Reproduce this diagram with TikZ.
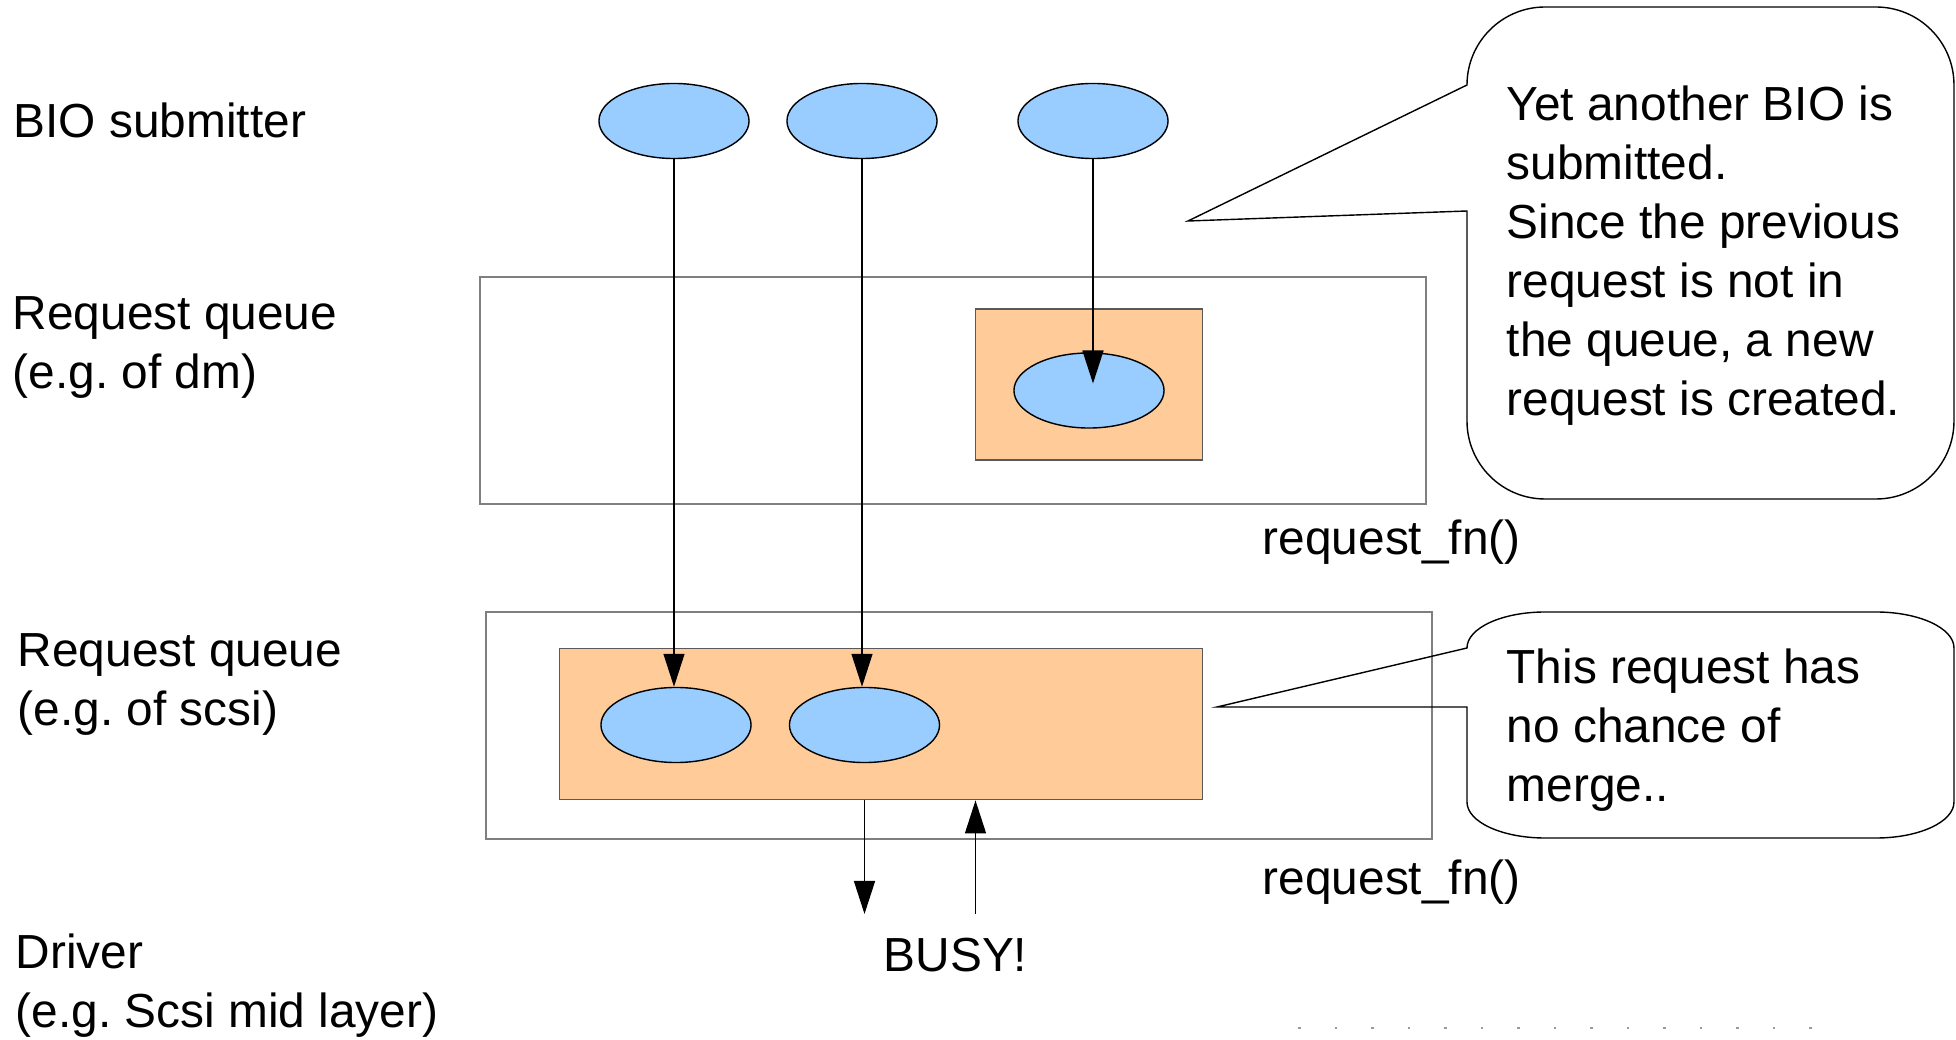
\documentclass[tikz,border=0pt]{standalone}
\usepackage{fontspec}
\setmainfont{Liberation Sans}
\usetikzlibrary{shapes.geometric}
\usetikzlibrary{arrows.meta}
\definecolor{bioblue}{HTML}{99CCFF}
\definecolor{reqorange}{HTML}{FFCC99}
\definecolor{edgegray}{HTML}{7F7F7F}
\definecolor{dotgray}{HTML}{9A9A9A}

\begin{document}
\begin{tikzpicture}[x=0.01cm, y=-0.01cm,
    font=\fontsize{13.6pt}{16.8pt}\selectfont,
    bio/.style={ellipse, draw, line width=0.4pt, fill=bioblue,
      minimum width=1.5cm, minimum height=0.75cm, inner sep=0pt},
    queue/.style={rectangle, draw=edgegray, line width=0.6pt, inner sep=0pt},
    req/.style={rectangle, draw=edgegray!70!black, line width=0.5pt,
      fill=reqorange, inner sep=0pt},
    conn/.style={line width=0.4pt, -{Triangle[length=0.33cm, width=0.21cm]}},
    callout/.style={draw, line width=0.4pt},
    desc/.style={anchor=base west, align=left, inner sep=0pt}]
    \useasboundingbox (0,0) rectangle (1956,1040);

    % Layer names (multi-line nodes sit on their last baseline)
    \node[desc] (lbio) at (13,137.7) {BIO submitter};
    \node[desc] (ldm) at (12,389) {Request queue\\(e.g.\ of dm)};
    \node[desc] (lscsi) at (17,726) {Request queue\\(e.g.\ of scsi)};
    \node[desc] (ldrv) at (15,1028) {Driver\\(e.g.\ Scsi mid layer)};

    % BIO submitters
    \node[bio] (b1) at (674,121) {};
    \node[bio] (b2) at (862,121) {};
    \node[bio] (b3) at (1093,121) {};

    % Request queue of dm
    \node[queue, minimum width=9.46cm, minimum height=2.27cm] (q1) at (953,390.5) {};
    \node[req, minimum width=2.27cm, minimum height=1.51cm] (o1) at (1089,384.5) {};
    \node[bio] (r3) at (1089,390.5) {};
    \node[desc] (fn1) at (1262,555) {request\_fn()};

    % Request queue of scsi
    \node[queue, minimum width=9.455cm, minimum height=2.27cm] (q2) at (959,725.5) {};
    \node[req, minimum width=6.425cm, minimum height=1.51cm] (o2) at (881,724) {};
    \node[bio] (r1) at (676,725) {};
    \node[bio] (r2) at (864.5,725) {};
    \node[desc] (fn2) at (1262,895) {request\_fn()};

    % Arrows
    \draw[conn] (b1) -- (b1 |- r1.north);
    \draw[conn] (b2) -- (b2 |- r2.north);
    \draw[conn, shorten >=2pt] (b3) -- (b3 |- r3.center);
    \coordinate (drv) at (864.5,914);
    \coordinate (busy) at (975.5,914);
    \draw[conn] (drv |- o2.south) -- (drv);
    \draw[conn] (busy) -- (busy |- o2.south);
    \node[desc] (busytxt) at (883,971.5) {BUSY!};

    % Callouts
    \coordinate (tip1) at (1188,221);
    \coordinate (tip2) at (1217,707);
    \draw[callout] (1467,211) -- (tip1) -- (1467,85)
      .. controls (1467,42) and (1502,7) .. (1545,7) -- (1876,7)
      .. controls (1919,7) and (1954,42) .. (1954,85) -- (1954,421)
      .. controls (1954,464) and (1919,499) .. (1876,499) -- (1545,499)
      .. controls (1502,499) and (1467,464) .. (1467,421) -- cycle;
    \node[desc] (note1) at (1506,416) {Yet another BIO is\\submitted.\\Since the previous\\request is not in\\the queue, a new\\request is created.};
    \draw[callout] (1467,707) -- (tip2) -- (1467,648)
      .. controls (1467,628) and (1502,612) .. (1545,612) -- (1876,612)
      .. controls (1919,612) and (1954,628) .. (1954,648) -- (1954,802)
      .. controls (1954,822) and (1919,838) .. (1876,838) -- (1545,838)
      .. controls (1502,838) and (1467,822) .. (1467,802) -- cycle;
    \node[desc] (note2) at (1506,801.5) {This request has\\no chance of\\merge..};

    % Page dots
    \foreach \i in {0,...,14}
      \fill[dotgray] ({1298+36.5*\i},1027) rectangle ++(2.5,2.5);
\end{tikzpicture}
\end{document}
